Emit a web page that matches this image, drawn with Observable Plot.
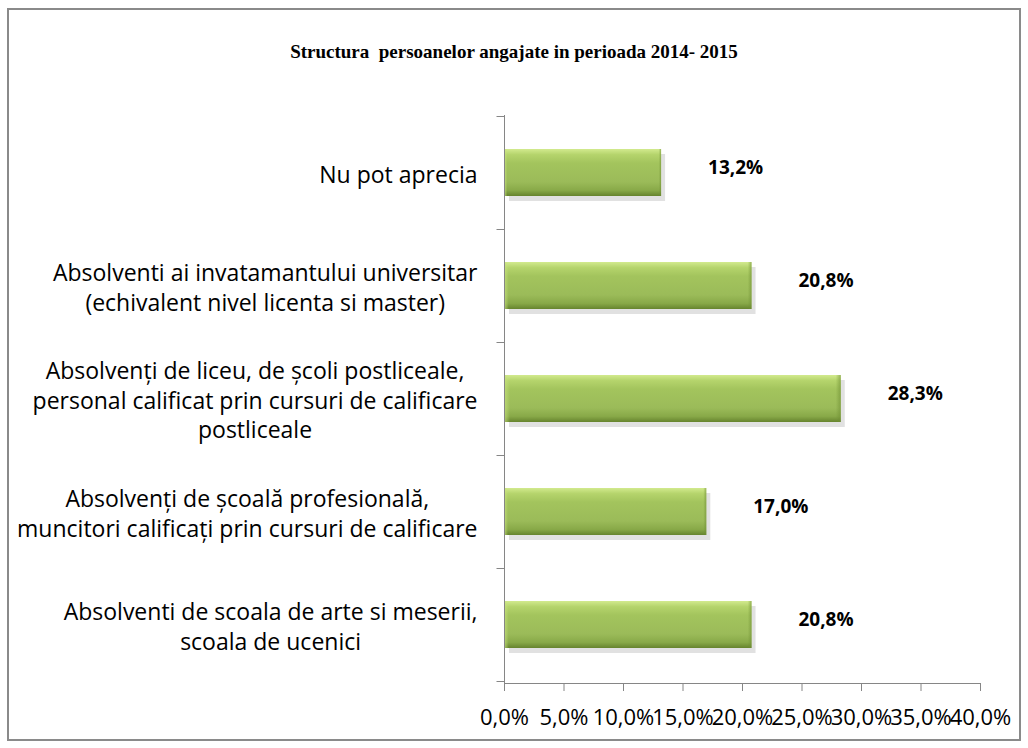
<!DOCTYPE html>
<html>
<head>
<meta charset="utf-8">
<script src="https://cdn.jsdelivr.net/npm/d3@7"></script>
<script src="https://cdn.jsdelivr.net/npm/@observablehq/plot@0.6"></script>
<style>
  html, body { margin: 0; padding: 0; background: #fff; }
  #wrap { position: relative; width: 1028px; height: 748px; overflow: hidden; }
  #border { position: absolute; left: 7px; top: 8px; width: 1014px; height: 733px; box-sizing: border-box; border: 2px solid #8a8a8a; }
  #title { position: absolute; left: 0; top: 41px; width: 1028px; text-align: center;
           font: bold 19px "Liberation Serif", "Times New Roman", serif; white-space: pre; color: #000; }
  #chart { position: absolute; left: 0; top: 0; }
</style>
</head>
<body>
<div id="wrap">
  <div id="border"></div>
  <div id="title"></div>
  <div id="chart"></div>
</div>
<script>
const titleText = "Structura  persoanelor angajate in perioada 2014- 2015";
const categories = [
  "Nu pot aprecia",
  "Absolventi ai invatamantului universitar\n(echivalent nivel licenta si master)",
  "Absolvenți de liceu, de școli postliceale,\npersonal calificat prin cursuri de calificare\npostliceale",
  "Absolvenți de școală profesională,\nmuncitori calificați prin cursuri de calificare",
  "Absolventi de scoala de arte si meserii,\nscoala de ucenici"
];
const values = [13.2, 20.8, 28.3, 17.0, 20.8];
const xTicks = [0, 5, 10, 15, 20, 25, 30, 35, 40];

document.getElementById("title").textContent = titleText;

const rows = categories.map((cat, i) => ({cat, value: values[i]}));
const fmt = d => d.toFixed(1).replace(".", ",") + "%";

const labelFont = "'Open Sans'";
const labelSize = 23;
const canvas = document.createElement("canvas");
const ctx = canvas.getContext("2d");
ctx.font = `${labelSize}px ${labelFont}`;
const blockWidth = c => Math.max(...c.split("\n").map(l => ctx.measureText(l).width));

function yBoundaryTicks(index, scales, values, dims) {
  const y = scales.y;
  let bw = y.bandwidth;
  if (typeof bw === "function") bw = bw();
  bw = bw || 0;
  const centers = categories.map(c => y(c) + bw / 2);
  const step = centers[1] - centers[0];
  const bounds = [centers[0] - step / 2, ...centers.map(c => c + step / 2)];
  const x0 = dims.marginLeft + 0.5;
  const g = d3.create("svg:g").attr("stroke", "#868686").attr("stroke-width", 1);
  for (const b of bounds) {
    const yy = Math.round(b) + 0.5;
    g.append("line").attr("x1", x0 - 8).attr("x2", x0).attr("y1", yy).attr("y2", yy);
  }
  return g.node();
}

const labelMarks = categories.map(c => Plot.text([c], {
  y: d => d, text: d => d, frameAnchor: "left", textAnchor: "middle",
  dx: -27 - blockWidth(c) / 2, fontSize: labelSize, lineHeight: 1.3, fill: "#000"
}));

const chart = Plot.plot({
  width: 1028, height: 748,
  marginTop: 115, marginBottom: 65, marginLeft: 504, marginRight: 48,
  style: {fontFamily: labelFont, background: "transparent", overflow: "visible", color: "#000"},
  x: {domain: [0, 40], axis: null},
  y: {domain: categories, paddingInner: 0.58, paddingOuter: 0.29, axis: null},
  marks: [
    Plot.barX(rows, {y: "cat", x: "value", fill: "#d4d4d4", fillOpacity: 0.7, dx: 4, dy: 5, insetLeft: 1}),
    Plot.barX(rows, {y: "cat", x: "value", fill: "url(#barGrad)", insetLeft: 1}),
    Plot.barX(rows, {y: "cat", x: "value", fill: "url(#barEdge)", insetLeft: 1}),
    Plot.text(rows, {y: "cat", x: "value", text: d => fmt(d.value), dx: 74, dy: -5,
      fontWeight: "bold", fontSize: 19, fill: "#000"}),
    Plot.frame({anchor: "left", stroke: "#868686"}),
    Plot.frame({anchor: "bottom", stroke: "#868686"}),
    Plot.axisX({ticks: xTicks, tickFormat: fmt, tickSize: 8, tickPadding: 18, fontSize: 22,
      color: "#000", stroke: "#868686", label: null}),
    yBoundaryTicks,
    ...labelMarks
  ]
});

const svg = d3.select(chart);
const defs = svg.insert("defs", ":first-child");
const g1 = defs.append("linearGradient").attr("id", "barGrad").attr("x1", 0).attr("y1", 0).attr("x2", 0).attr("y2", 1);
[[0, "#d2ea8e"], [0.12, "#b5d46c"], [0.3, "#a3c45d"], [0.7, "#9bbb59"], [0.88, "#88a948"], [1, "#66842e"]]
  .forEach(([o, c]) => g1.append("stop").attr("offset", o).attr("stop-color", c));
const g2 = defs.append("linearGradient").attr("id", "barEdge").attr("x1", 0).attr("y1", 0).attr("x2", 1).attr("y2", 0);
[[0, "#c8e37f", 0.6], [0.015, "#c8e37f", 0], [0.985, "#6f8f33", 0], [1, "#6f8f33", 0.6]]
  .forEach(([o, c, op]) => g2.append("stop").attr("offset", o).attr("stop-color", c).attr("stop-opacity", op));

document.getElementById("chart").appendChild(chart);
</script>
</body>
</html>
